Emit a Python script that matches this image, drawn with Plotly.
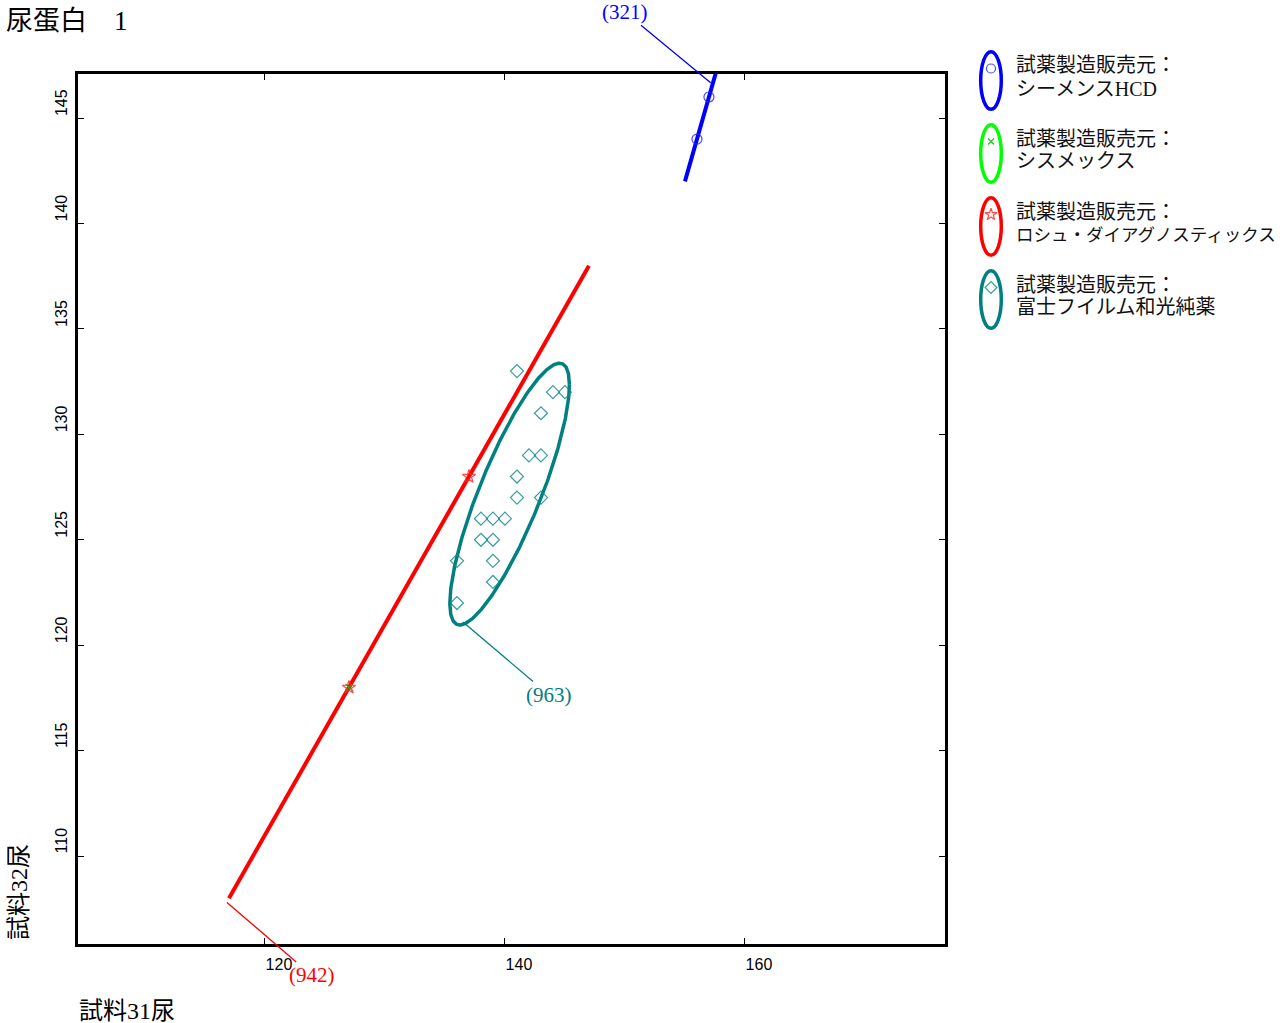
import numpy as np
import plotly.graph_objects as go

# ---------------- data ----------------
maker_line1 = ["試薬製造販売元：", "試薬製造販売元：", "試薬製造販売元：", "試薬製造販売元："]
maker_line2 = ["シーメンスHCD", "シスメックス", "ロシュ・ダイアグノスティックス", "富士フイルム和光純薬"]

siemens_x = [156, 157]
siemens_y = [144, 146]
sysmex_x = [127]
sysmex_y = [118]
roche_x = [127, 137]
roche_y = [118, 128]
fuji_x = [141, 144, 145, 143, 142, 143, 141, 141, 143, 138, 139, 140, 138, 139, 136, 139, 139, 136]
fuji_y = [133, 132, 132, 131, 129, 129, 128, 127, 127, 126, 126, 126, 125, 125, 124, 124, 123, 122]

counts = ["(321)", "", "(942)", "(963)"]
ellipse_k = [3.0, 3.0, 3.0, 1.96]

x_ticks = [120, 140, 160]
y_ticks = [110, 115, 120, 125, 130, 135, 140, 145]

title_text = "尿蛋白　1"
x_title = "試料31尿"
y_title = "試料32尿"

# ---------------- styles ----------------
W, H = 1286, 1023
colors = ["#0000FF", "#00FF00", "#FF0000", "#008080"]
marker_colors = ["rgba(40,40,255,0.85)", "rgba(0,200,0,0.9)", "rgba(255,40,40,0.85)", "rgba(20,140,140,0.85)"]
symbols = ["circle-open", "x-thin-open", "star-open", "diamond-open"]
msizes = [10, 7, 10, 10]
line_w = [4, 4, 4, 3.5]
JP = "Liberation Serif, Noto Sans CJK JP, serif"
legend_line2_size = [20, 20, 17.5, 20]

series = [(siemens_x, siemens_y), (sysmex_x, sysmex_y), (roche_x, roche_y), (fuji_x, fuji_y)]


def ellipse(xs, ys, k, n=361):
    x = np.asarray(xs, float)
    y = np.asarray(ys, float)
    if len(x) < 2:
        return None
    mx, my = x.mean(), y.mean()
    sx, sy = x.std(), y.std()
    if sx == 0 or sy == 0:
        return None
    rho = float(np.clip(((x - mx) * (y - my)).mean() / (sx * sy), -1, 1))
    phi = np.arccos(rho)
    t = np.linspace(0, 2 * np.pi, n)
    return mx + k * sx * np.cos(t), my + k * sy * np.cos(t - phi)


fig = go.Figure()

# ellipses / lines
for i, (xs, ys) in enumerate(series):
    e = ellipse(xs, ys, ellipse_k[i])
    if e is None:
        continue
    fig.add_trace(go.Scatter(x=e[0], y=e[1], mode="lines",
                             line=dict(color=colors[i], width=line_w[i]),
                             hoverinfo="skip", showlegend=False, xaxis="x", yaxis="y"))

# points
for i, (xs, ys) in enumerate(series):
    fig.add_trace(go.Scatter(x=xs, y=ys, mode="markers",
                             marker=dict(symbol=symbols[i], size=msizes[i], color=marker_colors[i],
                                         line=dict(width=1.2, color=marker_colors[i])),
                             showlegend=False, xaxis="x", yaxis="y"))

# ---------------- layout geometry (pixels) ----------------
plot_l, plot_r, plot_t, plot_b = 78, 945, 74, 944

def px(xp):
    return xp / W

def py(yp):
    return 1 - yp / H

shapes = []
annotations = []

# custom legend
leg_cx, leg_cy0, leg_dy, leg_rx, leg_ry = 991, 80.5, 73, 10.3, 28.7
leg_mx, leg_my = [], []
for i in range(4):
    cy = leg_cy0 + i * leg_dy
    shapes.append(dict(type="circle", xref="paper", yref="paper",
                       x0=px(leg_cx - leg_rx), x1=px(leg_cx + leg_rx),
                       y0=py(cy + leg_ry), y1=py(cy - leg_ry),
                       line=dict(color=colors[i], width=3.5)))
    annotations.append(dict(xref="paper", yref="paper", x=px(1014), y=py(cy - 15),
                            xanchor="left", yanchor="middle", showarrow=False,
                            text=maker_line1[i], font=dict(family=JP, size=20, color="#111")))
    annotations.append(dict(xref="paper", yref="paper", x=px(1014), y=py(cy + 8),
                            xanchor="left", yanchor="middle", showarrow=False,
                            text=maker_line2[i], font=dict(family=JP, size=legend_line2_size[i], color="#111")))
    leg_mx.append(leg_cx)
    leg_my.append(cy - 12)

for i in range(4):
    fig.add_trace(go.Scatter(x=[leg_mx[i]], y=[leg_my[i]], mode="markers",
                             marker=dict(symbol=symbols[i], size=msizes[i] - 1, color=marker_colors[i],
                                         line=dict(width=1.2, color=marker_colors[i])),
                             showlegend=False, hoverinfo="skip", xaxis="x2", yaxis="y2"))

# count labels with leader lines (head in data coords, offset in pixels)
count_heads = [(157.14, 146.67), None, (116.83, 107.8), (136.5, 121.1)]
count_offsets = [(-86, -71), None, (85, 73), (86, 73)]
for i in range(4):
    if not counts[i] or count_heads[i] is None:
        continue
    hx, hy = count_heads[i]
    ox, oy = count_offsets[i]
    annotations.append(dict(xref="x", yref="y", x=hx, y=hy, ax=ox, ay=oy,
                            text=counts[i], showarrow=True, arrowhead=0, arrowwidth=1.3,
                            arrowcolor=colors[i], standoff=0,
                            font=dict(family=JP, size=21, color=colors[i])))

# titles
annotations.append(dict(xref="paper", yref="paper", x=px(4), y=py(21), xanchor="left", yanchor="middle",
                        text=title_text, showarrow=False, font=dict(family=JP, size=27, color="#000")))
annotations.append(dict(xref="paper", yref="paper", x=px(77), y=py(1011), xanchor="left", yanchor="middle",
                        text=x_title, showarrow=False, font=dict(family=JP, size=24, color="#000")))
annotations.append(dict(xref="paper", yref="paper", x=px(19), y=py(892), xanchor="center", yanchor="middle",
                        text=y_title, textangle=-90, showarrow=False, font=dict(family=JP, size=24, color="#000")))

axis_common = dict(showgrid=False, zeroline=False, showline=True, linewidth=3, linecolor="black",
                   mirror="ticks", ticks="inside", ticklen=6, tickwidth=1, tickcolor="black")

fig.update_layout(
    width=W, height=H,
    margin=dict(l=0, r=0, t=0, b=0),
    paper_bgcolor="white", plot_bgcolor="rgba(0,0,0,0)",
    showlegend=False,
    xaxis=dict(domain=[px(plot_l), px(plot_r)], range=[104.42, 176.67], tickvals=x_ticks,
               tickfont=dict(family="Liberation Sans, Arial, sans-serif", size=16, color="#000"),
               ticklabelshift=14, ticklabelstandoff=4, anchor="y", **axis_common),
    yaxis=dict(domain=[py(plot_b), py(plot_t)], range=[105.83, 147.09], tickvals=y_ticks,
               tickangle=-90,
               tickfont=dict(family="Liberation Sans Narrow, Liberation Sans, sans-serif", size=16, color="#000"),
               ticklabelshift=-13, ticklabelstandoff=2, anchor="x", **axis_common),
    xaxis2=dict(domain=[0, 1], range=[0, W], visible=False, anchor="y2", fixedrange=True),
    yaxis2=dict(domain=[0, 1], range=[H, 0], visible=False, anchor="x2", fixedrange=True),
    shapes=shapes,
    annotations=annotations,
)

fig.write_html("out.html", config={"displayModeBar": False},
               post_script="document.body.style.margin='0';document.body.style.overflow='hidden';")
